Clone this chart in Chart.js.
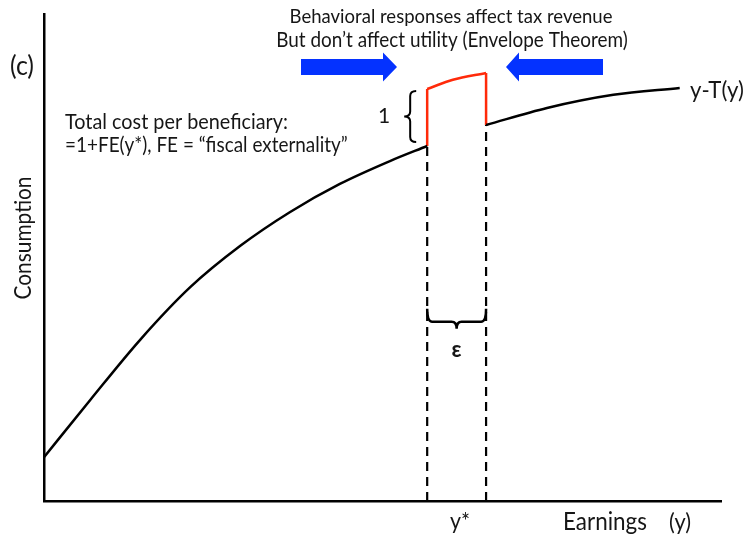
<!DOCTYPE html>
<html><head><meta charset="utf-8">
<script src="https://cdn.jsdelivr.net/npm/chart.js@4/dist/chart.umd.min.js"></script>
<style>html,body{margin:0;padding:0;background:#fff}#wrap{width:746px;height:540px}</style>
</head><body><div id="wrap"><canvas id="c" width="746" height="540"></canvas></div>
<script>
// Conceptual chart: x = earnings, y = consumption (arbitrary units 0-100)
const curveLeftX  = [0, 6.8, 14.2, 21.6, 29.0, 36.3, 43.7, 51.1, 56.6];
const curveLeftY  = [9.0, 20.7, 33.1, 43.9, 52.4, 59.3, 65.1, 69.8, 72.9];
const curveRightX = [65.3, 74.3, 84.1, 93.9];
const curveRightY = [77.2, 80.7, 83.4, 84.8];
const notchTopX   = [56.6, 60.4, 65.3];
const notchTopY   = [84.6, 86.5, 87.9];
const yStar = 56.6;
const yStarEps = 65.3;
const epsBraceY = 36.8;

const pts = (xs, ys) => xs.map((x, i) => ({x, y: ys[i]}));
const BLACK = '#000000', RED = '#FF2A0A', BLUE = '#0432FF', TEXT = '#161616';
const FONT = 'Lato, "Open Sans", sans-serif';
const CONDENSE = 1.08;

const line = (data, color, extra) => Object.assign({
  data, showLine: true, borderColor: color, borderWidth: 2.5, pointRadius: 0, fill: false, tension: 0
}, extra || {});

const datasets = [
  line(pts(curveLeftX, curveLeftY), BLACK, {cubicInterpolationMode: 'monotone'}),
  line(pts(curveRightX, curveRightY), BLACK, {cubicInterpolationMode: 'monotone'}),
  line([{x: yStar, y: curveLeftY[curveLeftY.length - 1]}, {x: yStar, y: notchTopY[0]}], RED),
  line(pts(notchTopX, notchTopY), RED, {cubicInterpolationMode: 'monotone'}),
  line([{x: yStarEps, y: notchTopY[notchTopY.length - 1]}, {x: yStarEps, y: curveRightY[0]}], RED),
  line([{x: yStar, y: 0}, {x: yStar, y: curveLeftY[curveLeftY.length - 1]}], BLACK, {borderDash: [9, 6], borderWidth: 2.2}),
  line([{x: yStarEps, y: 0}, {x: yStarEps, y: curveRightY[0]}], BLACK, {borderDash: [9, 6], borderWidth: 2.2})
];

const fontStr = (size, weight) => (weight ? weight + ' ' : '') + size.toFixed(2) + 'px ' + FONT;

// condensed text at a given size (Calibri-like proportions)
function txtC(ctx, text, x, y, size, align) {
  ctx.save();
  ctx.font = fontStr(size);
  ctx.textAlign = align || 'left';
  ctx.textBaseline = 'middle';
  ctx.translate(x, y);
  ctx.scale(1 / CONDENSE, 1);
  ctx.fillText(text, 0, 0);
  ctx.restore();
}
// condensed text whose width matches `width`
function txt(ctx, text, x, y, width, align) {
  ctx.font = fontStr(20);
  const w = ctx.measureText(text).width;
  txtC(ctx, text, x, y, 20 * width / w * CONDENSE, align);
}
function txtSize(ctx, text, x, y, size, align, weight) {
  ctx.font = fontStr(size, weight);
  ctx.textAlign = align || 'left';
  ctx.textBaseline = 'middle';
  ctx.fillText(text, x, y);
}
function arrow(ctx, x0, x1, headX, cy, bh, hh) {
  ctx.beginPath();
  ctx.moveTo(x0, cy - bh / 2);
  ctx.lineTo(headX, cy - bh / 2);
  ctx.lineTo(headX, cy - hh / 2);
  ctx.lineTo(x1, cy);
  ctx.lineTo(headX, cy + hh / 2);
  ctx.lineTo(headX, cy + bh / 2);
  ctx.lineTo(x0, cy + bh / 2);
  ctx.closePath();
  ctx.fill();
}

const annot = {
  id: 'annot',
  afterDatasetsDraw(chart) {
    const {ctx, scales: {x, y}} = chart;
    ctx.save();
    ctx.fillStyle = TEXT;
    txt(ctx, 'Behavioral responses affect tax revenue', 451, 17, 323, 'center');
    txt(ctx, 'But don\u2019t affect utility (Envelope Theorem)', 452, 40, 352, 'center');
    txt(ctx, '(c)', 10, 66, 24);
    txt(ctx, 'Total cost per beneficiary:', 65, 122, 223);
    txt(ctx, '=1+FE(y*), FE = \u201cfiscal externality\u201d', 65, 145, 283);
    txt(ctx, 'y-T(y)', 690, 90, 54);
    txtC(ctx, 'y*', 460, 522, 23, 'center');
    txt(ctx, 'Earnings', 563, 522, 84);
    txtC(ctx, '(y)', 669, 522, 23.5);
    ctx.save();
    ctx.translate(24, 238);
    ctx.rotate(-Math.PI / 2);
    txt(ctx, 'Consumption', 0, 0, 123, 'center');
    ctx.restore();

    // blue arrows
    ctx.fillStyle = BLUE;
    arrow(ctx, 301, 397, 383, 67, 16, 29);
    arrow(ctx, 603, 506, 519, 67, 16, 29);

    // brace "1"
    ctx.strokeStyle = BLACK; ctx.lineWidth = 2; ctx.lineCap = 'butt';
    const bx = x.getPixelForValue(yStar) - 17;
    const t = y.getPixelForValue(notchTopY[0]) + 2;
    const b = y.getPixelForValue(curveLeftY[curveLeftY.length - 1]) - 4;
    const m = (t + b) / 2;
    ctx.beginPath();
    ctx.moveTo(bx + 6, t);
    ctx.quadraticCurveTo(bx, t, bx, t + 5);
    ctx.lineTo(bx, m - 5);
    ctx.quadraticCurveTo(bx, m, bx - 6, m);
    ctx.quadraticCurveTo(bx, m, bx, m + 5);
    ctx.lineTo(bx, b - 5);
    ctx.quadraticCurveTo(bx, b, bx + 6, b);
    ctx.stroke();
    ctx.fillStyle = TEXT;
    txtSize(ctx, '1', bx - 26, m, 21, 'center');

    // epsilon brace
    const ex0 = x.getPixelForValue(yStar), ex1 = x.getPixelForValue(yStarEps);
    const ey = y.getPixelForValue(epsBraceY);
    const em = (ex0 + ex1) / 2;
    ctx.lineWidth = 2.5;
    ctx.beginPath();
    ctx.moveTo(ex0, ey - 13);
    ctx.quadraticCurveTo(ex0, ey, ex0 + 5, ey);
    ctx.lineTo(em - 5, ey);
    ctx.quadraticCurveTo(em, ey, em, ey + 7);
    ctx.quadraticCurveTo(em, ey, em + 5, ey);
    ctx.lineTo(ex1 - 5, ey);
    ctx.quadraticCurveTo(ex1, ey, ex1, ey - 13);
    ctx.stroke();
    txtSize(ctx, '\u03b5', em, ey + 28, 22, 'center', 'bold');
    ctx.restore();
  }
};

new Chart(document.getElementById('c'), {
  type: 'scatter',
  data: {datasets},
  options: {
    responsive: false,
    animation: false,
    layout: {padding: {top: 14, right: 25, left: 0, bottom: 0}},
    plugins: {legend: {display: false}, tooltip: {enabled: false}},
    scales: {
      x: {type: 'linear', min: 0, max: 100,
          grid: {display: false, drawTicks: false}, ticks: {display: false},
          border: {display: true, color: BLACK, width: 2.5},
          afterFit(s) { s.height = 39; }},
      y: {type: 'linear', min: 0, max: 100,
          grid: {display: false, drawTicks: false}, ticks: {display: false},
          border: {display: true, color: BLACK, width: 2.5},
          afterFit(s) { s.width = 44; }}
    }
  },
  plugins: [annot]
});
</script>
</body></html>
